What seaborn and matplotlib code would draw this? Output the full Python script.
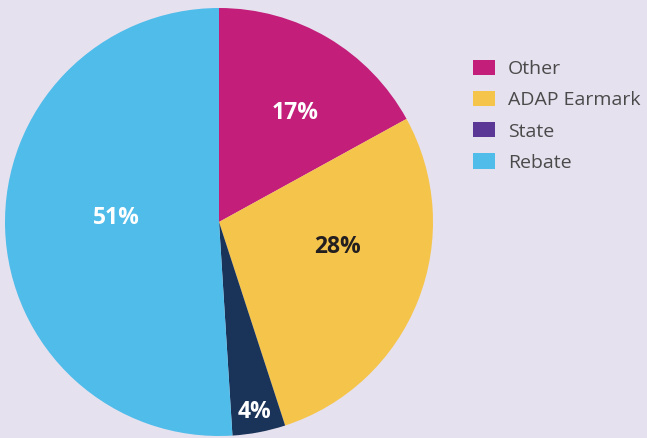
import matplotlib
matplotlib.use("Agg")
import matplotlib.pyplot as plt
import matplotlib.transforms as mtransforms
import seaborn as sns
import numpy as np
from matplotlib.patches import Patch

categories = ["Other", "ADAP Earmark", "State", "Rebate"]
values = [17, 28, 4, 51]
labels = ["17%", "28%", "4%", "51%"]

bg = "#E6E1EF"
pie_colors = ["#C21E7A", "#F5C44B", "#1A3358", "#4FBCEA"]
legend_colors = ["#C21E7A", "#F5C44B", "#5B3796", "#4FBCEA"]
label_colors = ["white", "#231F20", "white", "white"]
# label placement (fraction of radius, angle offset in degrees)
label_r = [0.63, 0.565, 0.895, 0.48]
label_dang = [-4.0, 10.5, 0.0, -5.0]

sns.set_theme(style="white")
plt.rcParams["font.family"] = ["Open Sans", "DejaVu Sans"]

fig = plt.figure(figsize=(6.47, 4.38), dpi=100)
fig.patch.set_facecolor(bg)
W, H = 647, 438
cx, cy, R = 219, 222, 214
ax = fig.add_axes([(cx - R) / W, (H - cy - R) / H, 2 * R / W, 2 * R / H])
ax.set_facecolor(bg)

wedges, _ = ax.pie(values, colors=pie_colors, startangle=90, counterclock=False,
                   radius=1.0, wedgeprops=dict(linewidth=0))
ax.set_xlim(-1, 1)
ax.set_ylim(-1, 1)
ax.set_aspect("equal")
ax.axis("off")

tr = mtransforms.offset_copy(ax.transData, fig=fig, x=0, y=-1.5, units="dots")
for w, lab, col, r, da in zip(wedges, labels, label_colors, label_r, label_dang):
    ang = np.deg2rad((w.theta1 + w.theta2) / 2 + da)
    ax.text(r * np.cos(ang), r * np.sin(ang), lab, color=col, fontsize=16.5,
            fontweight="bold", ha="center", va="center", transform=tr)

handles = [Patch(facecolor=c, edgecolor="none") for c in legend_colors]
fs = 14
leg = fig.legend(handles, categories, loc="upper left", bbox_to_anchor=(473 / W, 1 - 60 / H),
                 frameon=False, fontsize=fs, handlelength=1.13, handleheight=0.82,
                 labelspacing=0.66, handletextpad=0.67, borderpad=0, borderaxespad=0,
                 labelcolor="#4A4A4A")

fig.savefig("out.png", dpi=100, facecolor=bg)
